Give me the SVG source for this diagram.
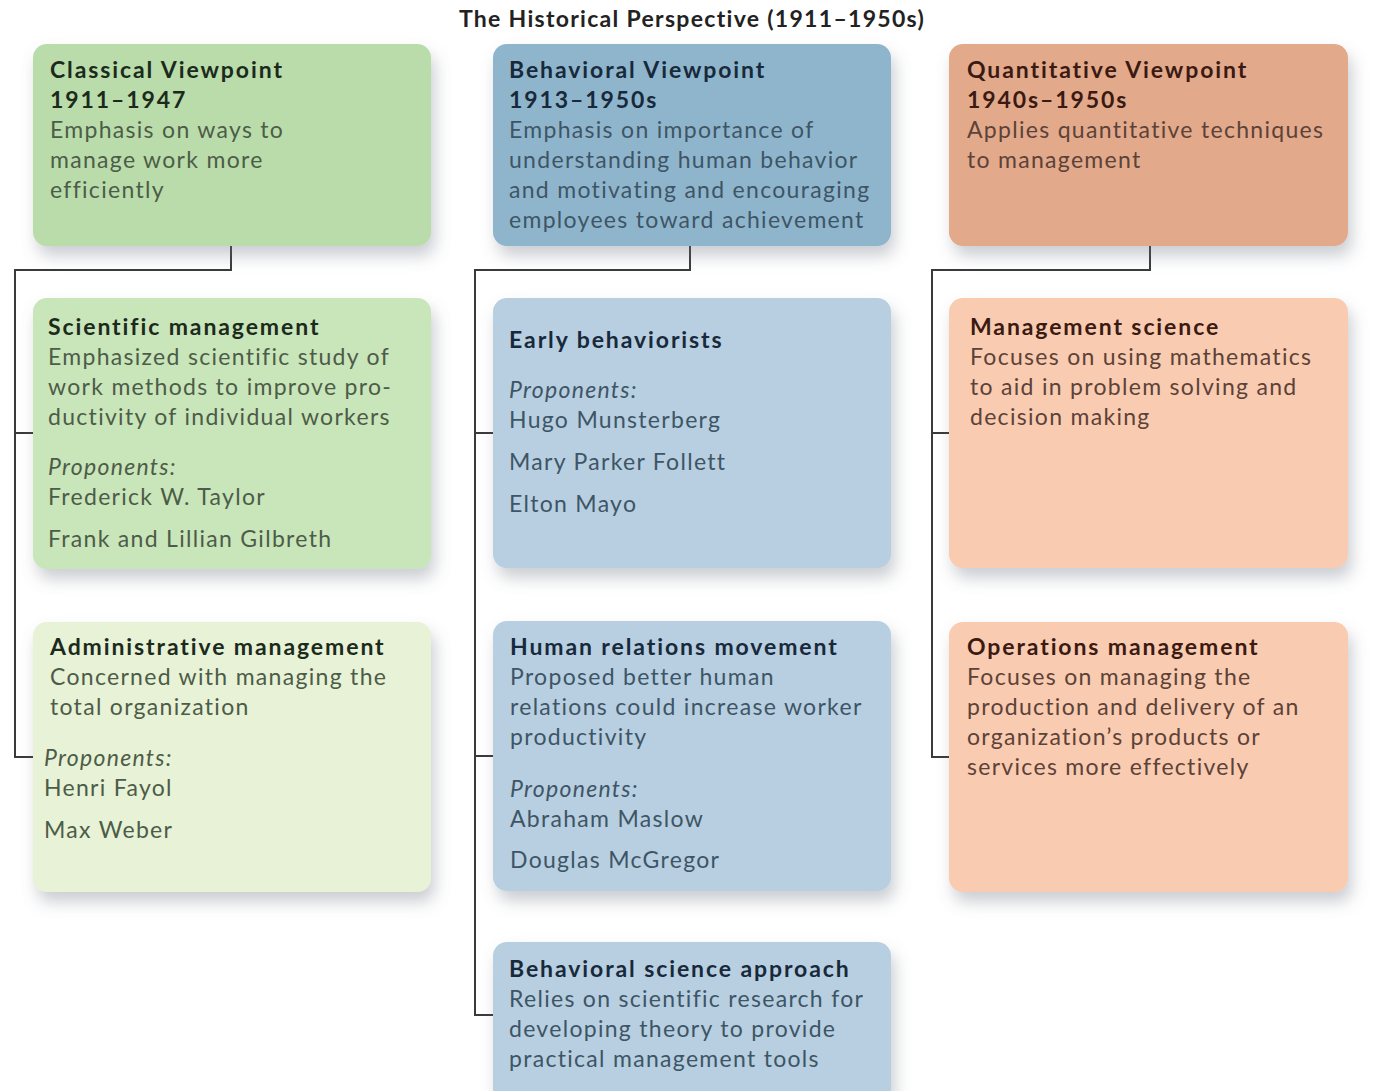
<svg xmlns="http://www.w3.org/2000/svg" width="1380" height="1091" viewBox="0 0 1380 1091">
<defs>
<filter id="sh" x="-10%" y="-10%" width="125%" height="135%">
<feDropShadow dx="4" dy="10" stdDeviation="8" flood-color="#6b7280" flood-opacity="0.35"/>
</filter>
<style>
text{font-family:Lato,"Open Sans","Liberation Sans",sans-serif;font-size:23px;letter-spacing:1.3px}
.t{font-weight:700;letter-spacing:1.9px}
.ttl{font-weight:700;fill:#222;font-size:23px;letter-spacing:1.3px}
.it{font-style:italic}
.box{filter:url(#sh)}
.g1{fill:#b9dcaa}.g2{fill:#c9e5ba}.g3{fill:#e7f2d6}
.b1{fill:#8fb5cd}.b2{fill:#b7cfe0}
.o1{fill:#e3a98b}.o2{fill:#f9cbb0}
.gt{fill:#1c2a1c}.gb{fill:#4d5c48}
.bt{fill:#17293a}.bb{fill:#3e5566}
.ot{fill:#3a1a12}.ob{fill:#5c4238}
.con{fill:none;stroke:#3a3a3a;stroke-width:2}
</style>
</defs>
<rect width="1380" height="1091" fill="#ffffff"/>
<text class="ttl" x="692" y="27" text-anchor="middle">The Historical Perspective (1911–1950s)</text>

<g id="connectors">
<path class="con" d="M231,246 V270 H15 V757 H33 M15,433 H33"/>
<path class="con" d="M690,246 V270 H475 V1015 H493 M475,433 H493 M475,756 H493"/>
<path class="con" d="M1150,246 V270 H932 V757 H949 M932,433 H949"/>
</g>

<g id="classical">
<rect class="box g1" x="33" y="44" width="398" height="202" rx="14"/>
<text class="t gt" x="50" y="78">Classical Viewpoint</text>
<text class="t gt" x="50" y="108">1911–1947</text>
<text class="gb" x="50" y="138">Emphasis on ways to</text>
<text class="gb" x="50" y="168">manage work more</text>
<text class="gb" x="50" y="198">efficiently</text>
</g>

<g id="behavioral">
<rect class="box b1" x="493" y="44" width="398" height="202" rx="14"/>
<text class="t bt" x="509" y="78">Behavioral Viewpoint</text>
<text class="t bt" x="509" y="108">1913–1950s</text>
<text class="bb" x="509" y="138">Emphasis on importance of</text>
<text class="bb" x="509" y="168">understanding human behavior</text>
<text class="bb" x="509" y="198">and motivating and encouraging</text>
<text class="bb" x="509" y="228">employees toward achievement</text>
</g>

<g id="quantitative">
<rect class="box o1" x="949" y="44" width="399" height="202" rx="14"/>
<text class="t ot" x="967" y="78">Quantitative Viewpoint</text>
<text class="t ot" x="967" y="108">1940s–1950s</text>
<text class="ob" x="967" y="138">Applies quantitative techniques</text>
<text class="ob" x="967" y="168">to management</text>
</g>

<g id="scientific">
<rect class="box g2" x="33" y="298" width="398" height="271" rx="14"/>
<text class="t gt" x="48" y="335">Scientific management</text>
<text class="gb" x="48" y="365">Emphasized scientific study of</text>
<text class="gb" x="48" y="395">work methods to improve pro-</text>
<text class="gb" x="48" y="425">ductivity of individual workers</text>
<text class="gb it" x="48" y="475">Proponents:</text>
<text class="gb" x="48" y="505">Frederick W. Taylor</text>
<text class="gb" x="48" y="547">Frank and Lillian Gilbreth</text>
</g>

<g id="early">
<rect class="box b2" x="493" y="298" width="398" height="270" rx="14"/>
<text class="t bt" x="509" y="348">Early behaviorists</text>
<text class="bb it" x="509" y="398">Proponents:</text>
<text class="bb" x="509" y="428">Hugo Munsterberg</text>
<text class="bb" x="509" y="470">Mary Parker Follett</text>
<text class="bb" x="509" y="512">Elton Mayo</text>
</g>

<g id="mgmtscience">
<rect class="box o2" x="949" y="298" width="399" height="270" rx="14"/>
<text class="t ot" x="970" y="335">Management science</text>
<text class="ob" x="970" y="365">Focuses on using mathematics</text>
<text class="ob" x="970" y="395">to aid in problem solving and</text>
<text class="ob" x="970" y="425">decision making</text>
</g>

<g id="administrative">
<rect class="box g3" x="33" y="622" width="398" height="270" rx="14"/>
<text class="t gt" x="50" y="655">Administrative management</text>
<text class="gb" x="50" y="685">Concerned with managing the</text>
<text class="gb" x="50" y="715">total organization</text>
<text class="gb it" x="44" y="766">Proponents:</text>
<text class="gb" x="44" y="796">Henri Fayol</text>
<text class="gb" x="44" y="838">Max Weber</text>
</g>

<g id="humanrelations">
<rect class="box b2" x="493" y="621" width="398" height="270" rx="14"/>
<text class="t bt" x="510" y="655">Human relations movement</text>
<text class="bb" x="510" y="685">Proposed better human</text>
<text class="bb" x="510" y="715">relations could increase worker</text>
<text class="bb" x="510" y="745">productivity</text>
<text class="bb it" x="510" y="797">Proponents:</text>
<text class="bb" x="510" y="827">Abraham Maslow</text>
<text class="bb" x="510" y="868">Douglas McGregor</text>
</g>

<g id="operations">
<rect class="box o2" x="949" y="622" width="399" height="270" rx="14"/>
<text class="t ot" x="967" y="655">Operations management</text>
<text class="ob" x="967" y="685">Focuses on managing the</text>
<text class="ob" x="967" y="715">production and delivery of an</text>
<text class="ob" x="967" y="745">organization’s products or</text>
<text class="ob" x="967" y="775">services more effectively</text>
</g>

<g id="behavioralscience">
<rect class="box b2" x="493" y="942" width="398" height="160" rx="14"/>
<text class="t bt" x="509" y="977">Behavioral science approach</text>
<text class="bb" x="509" y="1007">Relies on scientific research for</text>
<text class="bb" x="509" y="1037">developing theory to provide</text>
<text class="bb" x="509" y="1067">practical management tools</text>
</g>
</svg>
